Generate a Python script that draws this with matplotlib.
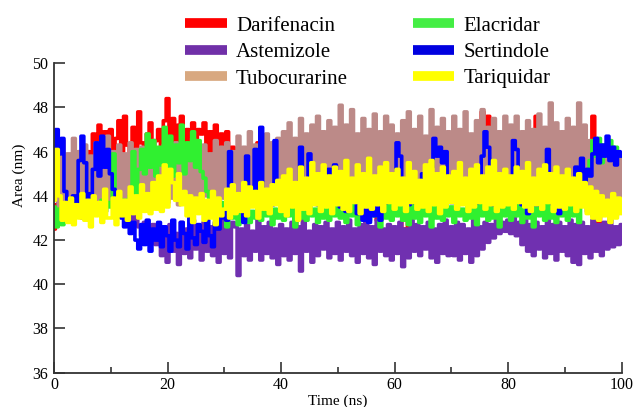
# -*- coding:utf-8 -*-
import numpy as np
import matplotlib
matplotlib.use('Agg')
import matplotlib.pyplot as plt
from matplotlib.lines import Line2D

# time axis, 0.5 ns sampling
time_ns = np.arange(0, 100.5, 0.5)

names = ['Darifenacin', 'Astemizole', 'Tubocurarine',
         'Elacridar', 'Sertindole', 'Tariquidar']

darifenacin = [
    42.5, 43.6, 44.2, 43.9, 44.5, 44.1, 44.6, 44.3, 44.8, 45.2, 44.9, 45.5, 46.0, 45.7, 46.8, 45.9, 47.2, 46.1, 46.9, 45.8,
    47.0, 45.9, 46.6, 47.4, 46.0, 47.6, 46.3, 45.8, 47.1, 46.2, 47.8, 46.4, 45.9, 46.8, 47.3, 46.0, 46.5, 47.0, 46.1, 47.4,
    48.4, 46.3, 47.5, 45.8, 47.2, 47.6, 46.1, 47.0, 45.9, 47.3, 46.4, 47.0, 46.8, 47.3, 46.0, 46.9, 45.5, 47.2, 46.2, 46.8,
    45.4, 46.9, 45.8, 46.2, 45.0, 44.6, 44.2, 44.5, 44.0, 44.3, 44.6, 46.0, 46.4, 45.9, 44.4, 44.1, 44.5, 44.2, 44.0, 44.4,
    44.1, 44.5, 44.2, 44.6, 44.3, 42.3, 43.9, 44.2, 44.5, 44.0, 44.3, 44.6, 44.2, 44.4, 44.0, 44.5, 44.1, 44.3, 44.6, 44.2,
    44.4, 44.0, 44.5, 44.2, 44.6, 44.1, 44.3, 44.5, 44.0, 44.4, 44.2, 44.6, 44.1, 44.3, 42.9, 44.5, 44.2, 44.4, 44.0, 44.3,
    44.5, 44.1, 44.4, 42.3, 42.5, 44.2, 44.6, 44.0, 44.3, 44.5, 44.1, 44.4, 44.2, 44.6, 44.0, 44.3, 44.5, 44.1, 44.4, 44.2,
    44.6, 44.0, 44.3, 44.5, 44.1, 44.4, 44.2, 44.6, 44.0, 44.3, 44.5, 47.8, 47.2, 47.6, 44.4, 44.2, 44.6, 44.0, 44.3, 44.5,
    44.1, 43.2, 44.4, 44.2, 44.6, 44.0, 44.3, 44.5, 44.1, 44.4, 47.6, 47.1, 44.2, 44.6, 44.0, 44.3, 44.5, 44.1, 44.4, 44.2,
    44.6, 44.0, 44.3, 44.5, 44.1, 44.4, 44.2, 44.6, 44.0, 44.3, 47.6, 46.4, 42.7, 44.2, 44.5, 44.1, 44.4, 44.2, 44.6, 44.0,
    44.3]

astemizole = [
    43.8, 44.3, 43.6, 44.5, 43.9, 44.2, 43.7, 44.4, 44.0, 44.6, 43.8, 44.3, 44.1, 44.5, 43.9, 44.2, 44.4, 43.8, 44.1, 44.5,
    44.0, 44.3, 43.7, 44.1, 43.5, 43.9, 43.2, 43.6, 42.9, 43.4, 42.6, 42.2, 42.8, 42.4, 42.0, 42.7, 41.8, 42.5, 41.3, 42.6,
    41.0, 42.7, 41.5, 42.3, 40.9, 42.8, 41.4, 42.5, 41.2, 42.9, 41.6, 42.4, 41.1, 42.8, 41.5, 42.6, 41.3, 42.7, 41.0, 42.9,
    41.4, 42.6, 41.2, 42.8, 42.6, 40.4, 42.5, 41.3, 42.7, 41.1, 42.4, 41.5, 42.9, 41.1, 42.6, 41.4, 42.8, 41.2, 42.5, 40.9,
    42.7, 41.3, 42.5, 41.1, 42.8, 41.4, 42.6, 40.6, 42.9, 41.5, 42.4, 41.0, 42.7, 41.3, 42.6, 41.6, 42.8, 41.2, 42.5, 41.4,
    42.8, 41.1, 42.6, 41.5, 42.9, 41.3, 42.5, 41.0, 42.7, 41.4, 42.8, 41.2, 42.6, 40.9, 42.9, 41.5, 42.5, 41.3, 42.7, 41.1,
    42.6, 41.4, 42.8, 40.8, 42.5, 41.2, 42.9, 41.5, 42.7, 41.3, 42.6, 41.6, 42.8, 41.2, 42.5, 41.0, 42.7, 41.4, 42.9, 41.3,
    42.6, 41.3, 42.8, 41.1, 42.7, 41.4, 42.5, 41.0, 42.9, 41.3, 42.6, 41.6, 42.8, 41.9, 42.7, 42.1, 42.9, 42.3, 42.8, 42.4,
    42.9, 42.3, 43.0, 42.2, 42.8, 41.8, 42.9, 41.5, 42.7, 41.3, 42.8, 41.6, 42.6, 41.2, 42.9, 41.4, 42.7, 41.1, 42.8, 41.5,
    42.6, 41.3, 42.9, 41.0, 42.7, 40.9, 42.8, 41.4, 42.6, 41.2, 42.9, 41.5, 42.7, 41.3, 42.8, 41.6, 42.9, 41.7, 42.6, 41.8,
    42.7]

tubocurarine = [
    44.8, 46.2, 43.2, 46.5, 43.5, 45.9, 43.1, 46.6, 43.4, 46.0, 43.0, 46.3, 43.6, 45.8, 43.2, 46.4, 43.5, 46.1, 43.3, 46.7,
    43.6, 46.0, 43.4, 46.3, 43.8, 45.9, 43.5, 46.4, 43.7, 46.1, 43.4, 46.2, 43.9, 45.8, 43.6, 46.5, 43.8, 46.0, 43.5, 46.3,
    43.7, 46.1, 43.9, 46.4, 43.6, 45.9, 43.8, 46.2, 43.5, 46.6, 43.9, 46.0, 43.7, 46.3, 44.0, 45.9, 43.6, 46.5, 43.8, 46.2,
    43.9, 46.4, 43.7, 46.0, 44.0, 46.7, 43.8, 46.2, 43.6, 46.9, 44.1, 46.3, 43.8, 46.5, 43.9, 46.8, 44.0, 46.4, 43.7, 46.6,
    44.0, 46.9, 43.8, 47.3, 44.1, 46.6, 43.9, 47.5, 44.2, 46.8, 43.8, 47.2, 44.0, 47.6, 43.9, 46.9, 44.2, 47.4, 44.0, 47.1,
    43.9, 48.1, 44.1, 47.2, 43.8, 47.9, 44.2, 46.8, 44.0, 47.5, 43.9, 47.0, 44.3, 47.7, 44.0, 46.9, 43.8, 47.6, 44.1, 47.2,
    44.0, 46.8, 43.9, 47.4, 44.2, 47.8, 43.8, 47.0, 44.1, 47.6, 43.9, 46.7, 44.2, 47.9, 44.0, 47.1, 43.8, 47.5, 44.1, 46.9,
    43.9, 47.6, 44.2, 47.0, 44.0, 47.8, 43.8, 46.8, 44.1, 47.4, 43.9, 47.9, 44.2, 47.1, 44.0, 47.5, 43.8, 46.9, 44.1, 47.6,
    44.0, 47.2, 43.9, 47.6, 44.2, 46.9, 43.8, 47.4, 44.1, 47.0, 43.9, 47.7, 44.2, 47.1, 44.0, 48.2, 43.8, 47.3, 44.1, 46.9,
    43.9, 47.5, 44.0, 47.1, 43.8, 48.2, 43.6, 47.2, 43.3, 46.5, 43.1, 45.9, 43.0, 45.6, 43.2, 46.0, 43.0, 45.7, 43.1, 45.8,
    43.5]

elacridar = [
    43.5, 42.6, 43.4, 42.7, 43.6, 42.9, 43.5, 43.1, 43.6, 43.2, 43.8, 43.3, 43.7, 43.2, 43.9, 43.4, 43.6, 43.8, 43.3, 43.7,
    43.5, 45.9, 43.6, 43.9, 43.4, 43.8, 43.5, 44.0, 46.0, 43.7, 45.2, 46.1, 45.0, 46.8, 45.3, 46.5, 44.9, 46.2, 45.4, 47.1,
    45.1, 46.7, 44.9, 46.3, 45.5, 47.2, 45.0, 46.4, 45.6, 46.9, 45.3, 46.5, 45.1, 44.8, 44.2, 43.9, 43.6, 43.8, 43.4, 43.7,
    43.1, 42.6, 43.5, 43.0, 43.7, 42.7, 43.4, 43.1, 43.6, 42.8, 43.3, 43.0, 43.8, 42.9, 43.5, 43.1, 43.6, 42.7, 43.4, 43.0,
    43.4, 42.9, 43.7, 43.1, 43.5, 42.6, 43.8, 43.0, 43.3, 42.9, 43.6, 43.1, 43.4, 42.8, 43.7, 43.0, 43.5, 42.9, 43.8, 43.1,
    43.5, 43.0, 43.9, 42.8, 43.4, 43.1, 43.7, 42.7, 43.6, 43.0, 43.8, 42.9, 43.5, 43.1, 43.3, 42.6, 43.7, 43.0, 43.6, 42.9,
    43.4, 43.1, 43.8, 42.9, 43.5, 42.7, 43.6, 43.0, 43.9, 42.8, 43.4, 43.1, 43.7, 42.6, 43.5, 43.0, 43.8, 42.9, 43.6, 43.1,
    43.5, 42.8, 43.8, 43.1, 43.4, 42.9, 43.9, 43.0, 43.6, 42.7, 43.7, 43.1, 43.5, 42.9, 43.8, 43.0, 43.4, 42.6, 43.6, 43.1,
    43.7, 42.9, 43.5, 43.1, 43.8, 42.8, 43.6, 43.0, 43.4, 42.6, 43.7, 43.1, 43.5, 42.9, 43.8, 43.0, 43.6, 42.8, 43.4, 43.1,
    43.7, 42.9, 43.5, 43.1, 43.8, 42.8, 43.6, 44.2, 44.9, 45.6, 46.5, 45.8, 46.6, 45.5, 46.3, 45.9, 46.5, 45.7, 46.2, 45.8,
    45.9]

sertindole = [
    46.0, 47.0, 45.9, 46.6, 44.2, 43.8, 43.6, 44.0, 43.7, 45.6, 46.7, 45.5, 43.9, 44.1, 45.2, 46.4, 44.9, 46.7, 45.3, 46.1,
    45.0, 44.3, 43.8, 43.4, 43.0, 42.6, 42.9, 42.3, 42.8, 42.0, 41.6, 42.7, 41.8, 42.9, 41.5, 42.5, 42.0, 42.8, 41.7, 42.6,
    42.2, 41.5, 42.9, 42.0, 41.7, 42.8, 42.3, 41.6, 43.0, 42.1, 41.8, 42.7, 42.4, 41.9, 42.9, 42.2, 41.7, 42.8, 42.5, 43.0,
    43.3, 42.9, 46.0, 43.7, 43.9, 43.6, 43.8, 42.8, 45.8, 43.7, 43.9, 46.1, 43.8, 47.1, 43.7, 43.9, 43.8, 43.6, 46.5, 43.8,
    43.7, 43.9, 44.4, 43.8, 43.6, 43.9, 43.8, 46.2, 43.7, 43.9, 45.9, 44.2, 43.8, 43.6, 43.9, 43.7, 43.8, 45.2, 44.9, 45.4,
    43.8, 43.5, 43.7, 43.3, 44.6, 43.9, 44.3, 43.2, 43.8, 42.9, 43.5, 42.8, 43.9, 43.1, 43.6, 42.9, 43.8, 43.7, 43.9, 43.8,
    43.8, 46.4, 45.8, 43.7, 43.9, 43.6, 43.8, 43.7, 43.9, 44.4, 45.0, 44.6, 43.8, 45.3, 46.6, 45.8, 46.2, 45.5, 46.0, 43.8,
    43.7, 43.9, 43.6, 43.8, 43.7, 43.9, 43.8, 43.6, 43.9, 43.7, 43.8, 45.8, 46.9, 46.2, 43.8, 43.6, 43.9, 43.7, 43.8, 43.9,
    43.8, 44.2, 46.5, 46.1, 43.8, 43.6, 43.9, 43.2, 43.7, 43.9, 43.6, 43.8, 43.7, 43.9, 46.1, 43.8, 43.6, 43.9, 43.2, 43.8,
    43.8, 43.7, 43.9, 44.6, 45.3, 44.8, 45.7, 44.5, 45.2, 44.9, 45.9, 46.6, 45.5, 46.3, 45.8, 46.7, 45.6, 46.2, 45.4, 46.0,
    45.8]

tariquidar = [
    43.8, 46.1, 44.0, 42.9, 43.7, 42.8, 43.9, 42.7, 43.6, 43.0, 44.1, 42.9, 43.8, 42.6, 44.0, 43.1, 43.7, 42.8, 44.3, 43.0,
    43.0, 43.9, 42.7, 44.2, 43.1, 43.8, 42.9, 44.4, 43.2, 44.0, 43.0, 44.5, 43.3, 44.1, 43.2, 44.6, 43.4, 44.9, 43.3, 45.4,
    43.5, 45.2, 44.6, 43.8, 45.0, 43.6, 44.2, 43.1, 44.0, 42.8, 43.9, 43.2, 44.1, 42.9, 43.8, 43.0, 44.2, 42.7, 43.9, 43.1,
    43.4, 44.3, 43.0, 44.5, 43.2, 44.1, 43.3, 44.6, 43.1, 44.4, 43.5, 44.2, 43.0, 44.6, 43.4, 44.3, 43.2, 44.5, 43.6, 44.7,
    43.3, 44.9, 43.1, 45.2, 43.5, 44.6, 42.9, 45.3, 43.4, 44.8, 43.2, 45.5, 43.6, 45.0, 43.3, 45.4, 43.5, 44.9, 43.2, 45.3,
    43.6, 45.1, 43.4, 45.6, 43.3, 44.8, 43.7, 45.4, 43.2, 45.0, 43.5, 45.7, 43.4, 44.9, 43.6, 45.3, 43.3, 45.5, 43.7, 45.0,
    43.4, 45.2, 43.6, 44.8, 43.3, 45.5, 43.7, 45.1, 43.4, 44.7, 43.5, 45.4, 43.3, 45.6, 43.6, 45.0, 43.2, 45.3, 43.5, 44.9,
    43.7, 45.1, 43.4, 45.5, 43.6, 44.8, 43.3, 45.2, 43.5, 45.4, 43.7, 44.9, 43.4, 45.3, 43.6, 45.6, 43.3, 45.0, 43.5, 45.2,
    43.6, 44.9, 43.4, 45.3, 43.7, 45.1, 43.5, 45.5, 43.3, 44.8, 43.6, 45.2, 43.4, 45.4, 43.7, 45.0, 43.3, 45.3, 43.5, 44.9,
    43.4, 45.2, 43.6, 44.8, 43.3, 45.0, 43.5, 44.6, 43.2, 44.4, 43.0, 44.2, 42.9, 44.0, 43.1, 43.8, 42.8, 44.1, 43.0, 43.9,
    43.2]

# line colours, and the (slightly different) legend swatch colours
line_colors = ['#FF0000', '#7030B0', '#BC8A88', '#30F030', '#0000FF', '#FFFF00']
legend_colors = ['#FF0000', '#7030A8', '#D8A880', '#44EE44', '#0000E0', '#FFFF00']


def Gen_Area_Plot(out_file='out.png'):
    plt.rcParams['font.family'] = ['Liberation Serif', 'DejaVu Serif']

    fig = plt.figure(figsize=(6.34, 4.07), dpi=100)
    ax = fig.add_axes([0.0852, 0.0843, 0.8954, 0.7602])

    # later sets are drawn on top, like in xmgrace
    # steps give the dense vertical-bar look of the long trajectories
    series = [darifenacin, astemizole, tubocurarine,
              elacridar, sertindole, tariquidar]
    for vals, col in zip(series, line_colors):
        ax.plot(time_ns, vals, color=col, lw=2.6, drawstyle='steps-mid',
                snap=False)

    ax.set_xlim(0, 100)
    ax.set_ylim(36, 50)
    ax.set_xticks(np.arange(0, 101, 20))
    ax.set_xticks(np.arange(10, 100, 20), minor=True)
    ax.set_yticks(np.arange(36, 51, 2))

    for s in ['top', 'right']:
        ax.spines[s].set_visible(False)
    for s in ['left', 'bottom']:
        ax.spines[s].set_color('#333333')
        ax.spines[s].set_linewidth(1.3)

    ax.tick_params(which='major', direction='in', length=8, width=1.2,
                   color='#333333', labelsize=11.5, pad=4)
    ax.tick_params(which='minor', direction='in', length=4.5, width=1.2,
                   color='#333333')
    ax.tick_params(axis='x', which='major', pad=3)

    ax.set_xlabel('Time (ns)', fontsize=11, labelpad=1)
    fig.text(19 / 634, 1 - 175 / 407, 'Area (nm)', rotation=90,
             fontsize=11, ha='center', va='center')

    # legend in two columns above the plot
    handles = [Line2D([0], [0], color=c, lw=7, solid_capstyle='butt')
               for c in legend_colors]
    fig.legend(handles, names, ncol=2, frameon=False, fontsize=15,
               loc='upper left', bbox_to_anchor=(185 / 634, 1 - 16 / 407),
               borderpad=0, borderaxespad=0, handlelength=2.0,
               handletextpad=0.45, labelspacing=0.33, columnspacing=3.1)

    fig.savefig(out_file, dpi=100)
    print('get:%s' % out_file)


if __name__ == "__main__":
    Gen_Area_Plot()
